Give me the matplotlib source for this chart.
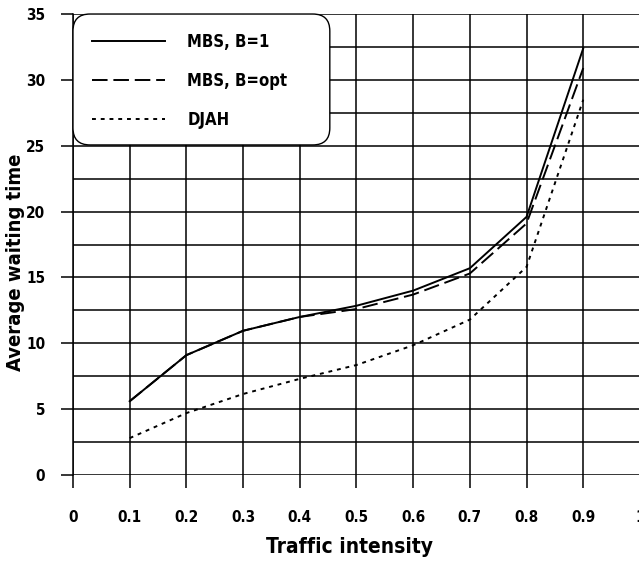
import numpy as np
import matplotlib.pyplot as plt
from matplotlib.patches import FancyBboxPatch

plt.rcParams['font.family'] = ['DejaVu Sans']
plt.rcParams['font.weight'] = 'bold'
plt.rcParams['font.stretch'] = 'condensed'

# data
traffic = [0.1, 0.2, 0.3, 0.4, 0.5, 0.6, 0.7, 0.8, 0.9]
mbs_b1 = [5.6, 9.1, 10.95, 12.0, 12.85, 14.0, 15.7, 19.6, 32.4]
mbs_bopt = [5.6, 9.1, 10.95, 12.0, 12.6, 13.7, 15.3, 19.1, 30.9]
djah = [2.8, 4.7, 6.15, 7.3, 8.35, 9.85, 11.8, 15.8, 28.5]

x_ticks = [0, 0.1, 0.2, 0.3, 0.4, 0.5, 0.6, 0.7, 0.8, 0.9, 1]
x_labels = ['0', '0.1', '0.2', '0.3', '0.4', '0.5', '0.6', '0.7', '0.8', '0.9', '1']
y_ticks = [0, 5, 10, 15, 20, 25, 30, 35]

fig = plt.figure(figsize=(6.39, 5.61), dpi=100)
ax = fig.add_axes([0.1142, 0.1533, 0.8873, 0.8217])

ax.plot(traffic, mbs_b1, color='black', lw=1.4, label='MBS, B=1')
ax.plot(traffic, mbs_bopt, color='black', lw=1.4, dashes=(8, 3), label='MBS, B=opt')
ax.plot(traffic, djah, color='black', lw=1.4, dashes=(2, 2.5), label='DJAH')

ax.set_xlim(0, 1)
ax.set_ylim(0, 35)
ax.set_xticks(x_ticks)
ax.set_xticklabels(x_labels)
ax.set_yticks(y_ticks)
ax.set_yticks(np.arange(0, 35.1, 2.5), minor=True)
ax.grid(True, which='both', color='black', lw=1.1)
ax.tick_params(which='both', direction='out', length=9, width=1.1, color='black')
ax.tick_params(axis='x', which='major', pad=16, labelsize=11)
ax.tick_params(axis='y', which='major', pad=11, labelsize=11)
ax.tick_params(axis='y', which='minor', length=0)

for s in ['top', 'right', 'bottom']:
    ax.spines[s].set_visible(False)
ax.spines['left'].set_linewidth(1.1)

ax.set_xlabel('Traffic intensity', fontsize=15, fontweight='bold')
ax.set_ylabel('Average waiting time', fontsize=14.5, fontweight='bold')
ax.xaxis.set_label_coords(0.487, -0.135)
ax.yaxis.set_label_coords(-0.085, 0.462)

# rounded legend box
box = FancyBboxPatch((0.0, 0.716), 0.453, 0.284, transform=ax.transAxes,
                     boxstyle='round,pad=0,rounding_size=0.03', mutation_aspect=567 / 461,
                     facecolor='white', edgecolor='black', lw=1.0, zorder=4, clip_on=False)
ax.add_patch(box)
leg = ax.legend(loc='upper left', bbox_to_anchor=(0.0, 1.0), fontsize=12, frameon=False,
                handlelength=4.4, handletextpad=1.3, borderpad=1.15,
                labelspacing=1.25, borderaxespad=0)
leg.set_zorder(5)

fig.savefig('out.png', dpi=100)
